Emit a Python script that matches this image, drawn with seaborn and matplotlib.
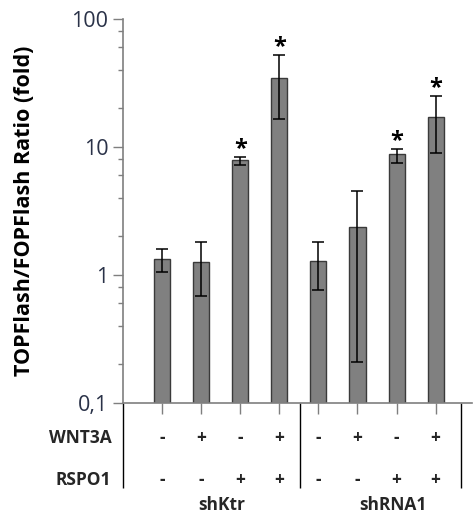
import numpy as np
import pandas as pd
import seaborn as sns
import matplotlib.pyplot as plt
from matplotlib import ticker, transforms

# values
conditions = ['shKtr_1', 'shKtr_2', 'shKtr_3', 'shKtr_4',
              'shRNA1_1', 'shRNA1_2', 'shRNA1_3', 'shRNA1_4']
fold = [1.33, 1.26, 7.9, 34.4, 1.28, 2.36, 8.77, 17.2]
err_low = [1.06, 0.68, 7.2, 16.5, 0.76, 0.21, 7.5, 8.9]
err_high = [1.59, 1.8, 8.4, 52.6, 1.8, 4.53, 9.7, 24.9]
star = [False, False, True, True, False, False, True, True]
wnt3a = ['-', '+', '-', '+', '-', '+', '-', '+']
rspo1 = ['-', '-', '+', '+', '-', '-', '+', '+']
groups = ['shKtr', 'shRNA1']
group_pos = [1.53, 5.91]
y_ticks = [0.1, 1, 10, 100]
y_labels = ['0,1', '1', '10', '100']

df = pd.DataFrame({'cond': conditions, 'fold': fold})

sns.set_style('white')
plt.rcParams['font.family'] = ['Open Sans', 'DejaVu Sans']

fig = plt.figure(figsize=(4.73, 5.16), dpi=100)
ax = fig.add_axes([123 / 473, 1 - 403 / 516, (472 - 123) / 473, 384 / 516])
ax.set_yscale('log')

sns.barplot(data=df, x='cond', y='fold', color='#808080', saturation=1,
            width=0.41, edgecolor='#3a3a3a', linewidth=1, errorbar=None, ax=ax)

x = np.arange(len(fold))
vals = np.array(fold)
ax.errorbar(x, vals, yerr=[vals - np.array(err_low), np.array(err_high) - vals],
            fmt='none', ecolor='black', elinewidth=1.1, capsize=4.5, capthick=1.1)

# significance marks
for i in range(len(fold)):
    if star[i]:
        ax.text(i, err_high[i] * 0.93, '*', ha='center', va='bottom',
                fontsize=17, fontweight='bold', color='black')

ax.set_ylim(0.1, 100)
ax.set_xlim(-1.0, 7.93)
ax.set_yticks(y_ticks)
ax.set_yticklabels(y_labels)
ax.yaxis.set_minor_locator(ticker.LogLocator(base=10, subs=[2, 4, 6, 8]))
ax.yaxis.set_minor_formatter(ticker.NullFormatter())
ax.tick_params(axis='y', which='major', left=True, length=7.5, width=1,
               color='#7f7f7f', labelsize=15.5, labelcolor='#2a3248', pad=3)
ax.tick_params(axis='y', which='minor', left=True, length=3.7, width=1,
               color='#7f7f7f')
ax.set_xticks(x)
ax.set_xticklabels([])
ax.tick_params(axis='x', bottom=True, length=8, width=1, color='#7f7f7f')
ax.set_xlabel('')
ax.set_ylabel('TOPFlash/FOPFlash Ratio (fold)', fontsize=15.5, fontweight='bold',
              color='black', labelpad=26)

for side in ['top', 'right']:
    ax.spines[side].set_visible(False)
for side in ['left', 'bottom']:
    ax.spines[side].set_color('#7f7f7f')
    ax.spines[side].set_linewidth(1.2)

# table under the axis
tr = transforms.blended_transform_factory(ax.transData, fig.transFigure)
for i in range(len(fold)):
    ax.text(i, 1 - 438 / 516, wnt3a[i], transform=tr, ha='center', va='center',
            fontsize=12.5, fontweight='bold')
    ax.text(i, 1 - 480 / 516, rspo1[i], transform=tr, ha='center', va='center',
            fontsize=12.5, fontweight='bold')
for g, p in zip(groups, group_pos):
    ax.text(p, 1 - 505 / 516, g, transform=tr, ha='center', va='center',
            fontsize=12.5, fontweight='bold')
fig.text(112 / 473, 1 - 438 / 516, 'WNT3A', ha='right', va='center',
         fontsize=12.5, fontweight='bold')
fig.text(111 / 473, 1 - 480 / 516, 'RSPO1', ha='right', va='center',
         fontsize=12.5, fontweight='bold')

trv = transforms.blended_transform_factory(ax.transData, ax.transAxes)
ax.vlines([-1.0], -0.221, 0, transform=trv, colors='black', linewidth=1, clip_on=False)
ax.vlines([3.53, 7.65], -0.221, 0, transform=trv, colors='black', linewidth=1,
          clip_on=False)

fig.savefig('out.png', dpi=100)
